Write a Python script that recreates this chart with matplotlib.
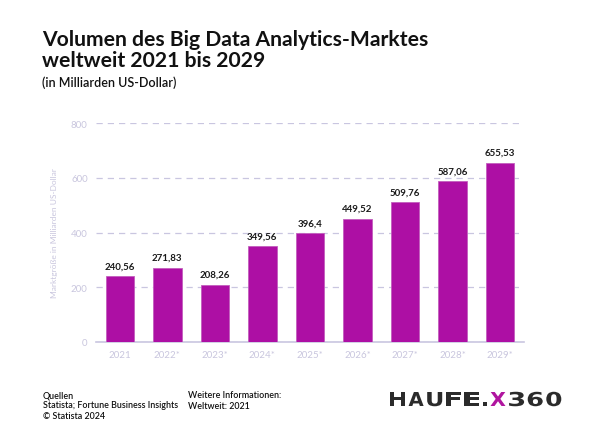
import matplotlib
matplotlib.use("Agg")
import matplotlib.pyplot as plt
from matplotlib.textpath import TextPath
from matplotlib.patches import PathPatch
from matplotlib.font_manager import FontProperties
from matplotlib.transforms import Affine2D, IdentityTransform

plt.rcParams['font.family'] = ['Lato', 'DejaVu Sans']

# data
years = ["2021", "2022*", "2023*", "2024*", "2025*", "2026*", "2027*", "2028*", "2029*"]
values = [240.56, 271.83, 208.26, 349.56, 396.4, 449.52, 509.76, 587.06, 655.53]
value_labels = ["240,56", "271,83", "208,26", "349,56", "396,4", "449,52", "509,76", "587,06", "655,53"]
y_ticks = [0, 200, 400, 600, 800]

bar_color = "#ad0fa4"
light = "#c9c6de"

fig = plt.figure(figsize=(6, 4.35), dpi=100)
ax = fig.add_axes([0.16, 0.2115, 0.713, 0.5034])

x = range(len(years))
ax.bar(x, values, width=0.6, color=bar_color, edgecolor="#c35ebd", linewidth=0.6, zorder=3)
for i, (v, lab) in enumerate(zip(values, value_labels)):
    ax.text(i, v + 22, lab, ha="center", va="bottom", fontsize=7, fontweight="bold", color="#1a1a1a")

ax.set_xlim(-0.5, len(years) - 0.5)
ax.set_ylim(0, 800)
ax.set_yticks(y_ticks)
ax.set_yticklabels([str(t) for t in y_ticks])
ax.set_xticks(list(x))
ax.set_xticklabels(years)
ax.tick_params(axis="both", length=0, labelsize=7, colors=light)
ax.tick_params(axis="y", pad=6)
ax.tick_params(axis="x", pad=6)
ax.grid(axis="y", color="#c9c6e0", linestyle=(0, (5, 4)), linewidth=0.9, zorder=0)
for s in ["top", "right", "left"]:
    ax.spines[s].set_visible(False)
ax.spines["bottom"].set_color("#c9c6e0")
ax.spines["bottom"].set_linewidth(1.2)
ax.set_ylabel("Marktgröße in Milliarden US-Dollar", fontsize=6.0, color=light)
ax.yaxis.set_label_coords(-0.089, 0.5)

# titles
fig.text(0.07, 0.894, "Volumen des Big Data Analytics-Marktes", fontsize=15.2, fontweight="bold", color="#111111", va="baseline")
fig.text(0.07, 0.846, "weltweit 2021 bis 2029", fontsize=15.2, fontweight="bold", color="#111111", va="baseline")
fig.text(0.07, 0.800, "(in Milliarden US-Dollar)", fontsize=9, fontweight="semibold", color="#111111", va="baseline")

# footer
fig.text(0.0717, 0.0667, "Quellen\nStatista; Fortune Business Insights\n© Statista 2024", fontsize=6.4,
         fontweight="semibold", color="#111111", va="center", linespacing=1.17)
fig.text(0.313, 0.078, "Weitere Informationen:\nWeltweit: 2021", fontsize=6.4,
         fontweight="semibold", color="#111111", va="center", linespacing=1.17)

# logo, drawn glyph by glyph and stretched wide
fp = FontProperties(family="DejaVu Sans", weight="bold")
h_ext = TextPath((0, 0), "H", size=1, prop=fp).get_extents()
sy = 14.0 / h_ext.height
logo = "HAUFE.X360"
px = 390.0
py = 435 - 407.0
for ch in logo:
    tp = TextPath((0, 0), ch, size=1, prop=fp)
    ext = tp.get_extents()
    if ch == ".":
        w = 4.0
        cell = 7.5
    else:
        w = 15.0
        cell = 18.6
    sx = w / ext.width
    tr = Affine2D().translate(-ext.x0, -h_ext.y0).scale(sx, sy).translate(px, py)
    col = "#b0159f" if ch == "X" else "#2b2b2b"
    fig.add_artist(PathPatch(tr.transform_path(tp), facecolor=col, edgecolor="none",
                             transform=IdentityTransform()))
    px += cell

fig.savefig("out.png", dpi=100)
